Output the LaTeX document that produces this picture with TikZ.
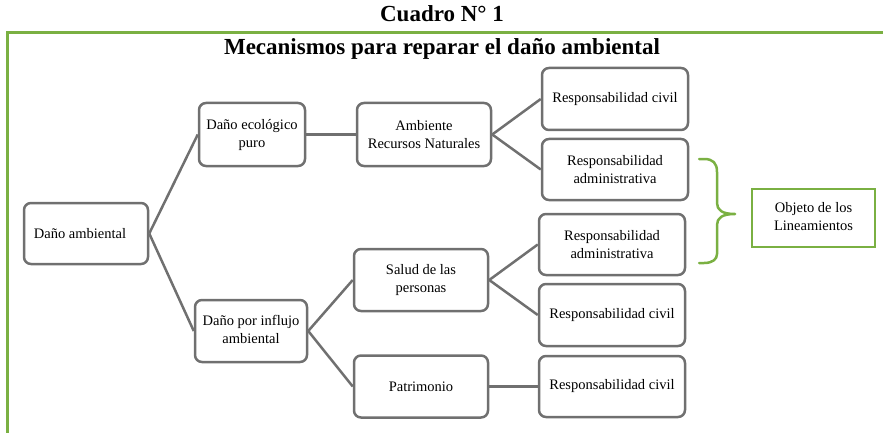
\documentclass[tikz,border=0pt]{standalone}
\usepackage{fontspec}
\setmainfont{Liberation Serif}
\definecolor{frameg}{RGB}{122,176,66}
\definecolor{lineg}{RGB}{112,112,112}
\begin{document}
\begin{tikzpicture}[x=1pt,y=-1pt,
  box/.style={draw=lineg, line width=2.5pt, rounded corners=7pt, fill=white,
    align=center, inner sep=0pt, font=\fontsize{14.5}{18}\selectfont},
  gbox/.style={draw=frameg, line width=2.5pt, fill=white,
    align=center, inner sep=0pt, font=\fontsize{14.5}{18}\selectfont},
  conn/.style={draw=lineg, line width=2.5pt},
  ttl/.style={anchor=base, inner sep=0pt, font=\fontsize{23}{26}\selectfont\bfseries},
]
\useasboundingbox (0,0) rectangle (883,433);
% frame
\draw[frameg, line width=3pt] (7,433) -- (7,33) -- (883,33);
% titles
\node[ttl] (t1) at (442,22) {Cuadro N° 1};
\node[ttl] (t2) at (442,55) {Mecanismos para reparar el daño ambiental};
% nodes
\node[box, minimum width=124, minimum height=61] (da) at (86,233.5) {Daño ambiental\hspace*{12pt}};
\node[box, minimum width=106, minimum height=63] (eco) at (252,134.5) {\raisebox{2pt}{\begin{tabular}{@{}c@{}}Daño ecológico\\puro\end{tabular}}};
\node[box, minimum width=112, minimum height=62] (inf) at (251,331) {\raisebox{2pt}{\begin{tabular}{@{}c@{}}Daño por influjo\\ambiental\end{tabular}}};
\node[box, minimum width=134, minimum height=63] (amb) at (424,134.5) {Ambiente\\Recursos Naturales};
\node[box, minimum width=134, minimum height=62] (sal) at (421,280) {Salud de las\\personas};
\node[box, minimum width=134, minimum height=62] (pat) at (421,386.5) {Patrimonio};
\node[box, minimum width=146, minimum height=62] (rc1) at (615,99) {Responsabilidad civil};
\node[box, minimum width=146, minimum height=61] (ra1) at (615,169.5) {Responsabilidad\\administrativa};
\node[box, minimum width=146, minimum height=61] (ra2) at (612,244.5) {Responsabilidad\\administrativa};
\node[box, minimum width=146, minimum height=62] (rc2) at (612,315) {Responsabilidad civil};
\node[box, minimum width=146, minimum height=61] (rc3) at (612,386.5) {Responsabilidad civil};
\node[gbox, minimum width=123, minimum height=58] (obj) at (813.5,218) {\raisebox{5pt}{\begin{tabular}{@{}c@{}}Objeto de los\\Lineamientos\end{tabular}}};
% connectors
\draw[conn] (da.east) -- (eco.west);
\draw[conn] (da.east) -- (inf.west);
\draw[conn] (eco.east) -- (amb.west);
\draw[conn] (amb.east) -- (rc1.west);
\draw[conn] (amb.east) -- (ra1.west);
\draw[conn] (inf.east) -- (sal.west);
\draw[conn] (inf.east) -- (pat.west);
\draw[conn] (sal.east) -- (ra2.west);
\draw[conn] (sal.east) -- (rc2.west);
\draw[conn] (pat.east) -- (rc3.west);
% brace
\draw[frameg, line width=2.5pt, line cap=round, line join=round]
  (699,159) -- (704,159) .. controls (713,159) and (717,163) .. (717,172)
  -- (717,203) .. controls (717,210) and (722,214) .. (735,214)
  .. controls (722,214) and (717,218) .. (717,225)
  -- (717,254) .. controls (717,259) and (713,263) .. (704,263) -- (699,263);
\end{tikzpicture}
\end{document}
